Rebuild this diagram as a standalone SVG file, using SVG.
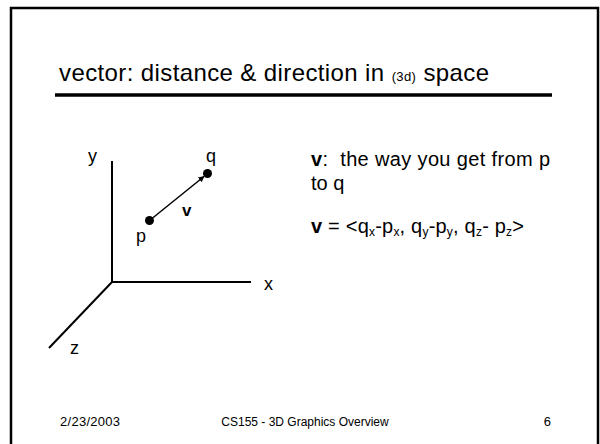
<svg xmlns="http://www.w3.org/2000/svg" width="600" height="444" viewBox="0 0 600 444">
<style>
.t{font-family:"Liberation Sans",Arial,sans-serif;fill:#000}
.ax{stroke:#000;stroke-width:2;fill:none}
</style>
<defs>
<marker id="ah" viewBox="0 0 10 10" refX="9" refY="5" markerWidth="4" markerHeight="4" orient="auto">
<path d="M0,0 L10,5 L0,10 z" fill="#000"/>
</marker>
</defs>
<rect x="0" y="0" width="600" height="444" fill="#fff"/>
<rect x="11" y="8" width="587" height="460" fill="none" stroke="#000" stroke-width="2.5"/>
<g id="title">
<text class="t" x="59" y="81" font-size="24" textLength="430" lengthAdjust="spacing">vector: distance &amp; direction in <tspan font-size="13">(3d)</tspan> space</text>
<line x1="55" y1="95" x2="552" y2="95" stroke="#000" stroke-width="3.5"/>
</g>
<g id="axes">
<line class="ax" x1="112" y1="161" x2="112" y2="282"/>
<line class="ax" x1="111" y1="282" x2="251" y2="282"/>
<line class="ax" x1="112" y1="282" x2="49" y2="348"/>
<text class="t" x="88" y="162" font-size="18">y</text>
<text class="t" x="264" y="290" font-size="18">x</text>
<text class="t" x="70" y="354" font-size="18">z</text>
</g>
<g id="p">
<circle cx="149.5" cy="220.5" r="4.5" fill="#000"/>
<text class="t" x="136" y="242" font-size="18">p</text>
</g>
<g id="q">
<circle cx="207.5" cy="173.5" r="4.5" fill="#000"/>
<text class="t" x="206" y="162" font-size="18">q</text>
</g>
<g id="connectors">
<line x1="149.5" y1="220.5" x2="204" y2="176.5" stroke="#000" stroke-width="1.5" marker-end="url(#ah)"/>
<text class="t" x="182" y="216" font-size="17" font-weight="bold">v</text>
</g>
<g id="desc">
<text class="t" x="311" y="166" font-size="20" textLength="239" lengthAdjust="spacing" xml:space="preserve"><tspan font-weight="bold">v</tspan>:  the way you get from p</text>
<text class="t" x="311" y="190" font-size="20">to q</text>
<text class="t" x="311" y="233" font-size="20" textLength="213" lengthAdjust="spacing"><tspan font-weight="bold">v</tspan> = &lt;q<tspan font-size="12" dy="3">x</tspan><tspan dy="-3">-p</tspan><tspan font-size="12" dy="3">x</tspan><tspan dy="-3">, q</tspan><tspan font-size="12" dy="3">y</tspan><tspan dy="-3">-p</tspan><tspan font-size="12" dy="3">y</tspan><tspan dy="-3">, q</tspan><tspan font-size="12" dy="3">z</tspan><tspan dy="-3">- p</tspan><tspan font-size="12" dy="3">z</tspan><tspan dy="-3">&gt;</tspan></text>
</g>
<g id="footer">
<text class="t" x="60" y="426" font-size="13" textLength="60" lengthAdjust="spacing">2/23/2003</text>
<text class="t" x="305" y="426" font-size="12" text-anchor="middle">CS155 - 3D Graphics Overview</text>
<text class="t" x="551" y="426" font-size="13" text-anchor="end">6</text>
</g>
</svg>
